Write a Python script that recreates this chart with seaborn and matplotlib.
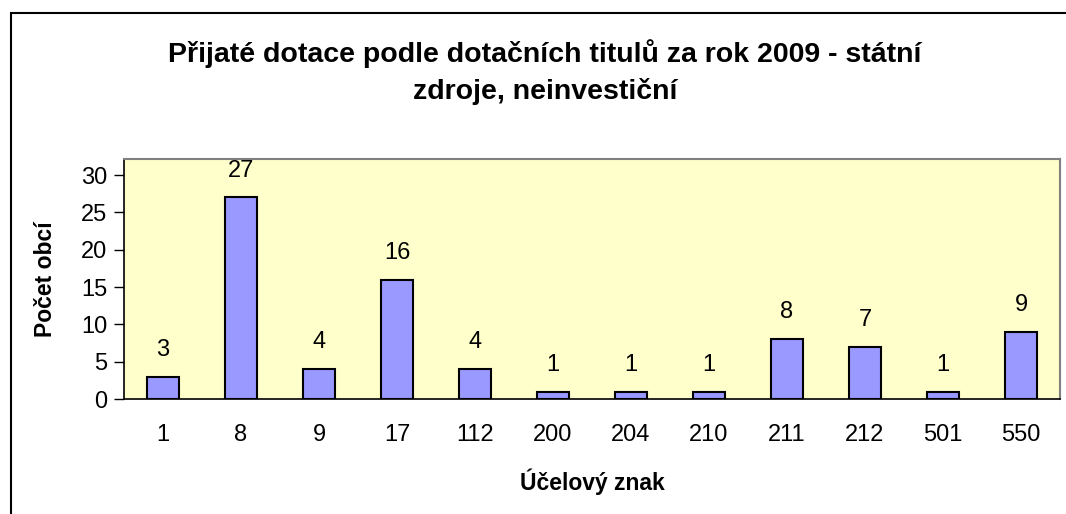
import numpy as np
import pandas as pd
import matplotlib
matplotlib.use("Agg")
import matplotlib.pyplot as plt
import seaborn as sns
from matplotlib.patches import Rectangle

# data
codes = ["1", "8", "9", "17", "112", "200", "204", "210", "211", "212", "501", "550"]
counts = [3, 27, 4, 16, 4, 1, 1, 1, 8, 7, 1, 9]

title = "Přijaté dotace podle dotačních titulů za rok 2009 - státní\nzdroje, neinvestiční"

sns.set_style("white")
plt.rcParams["font.family"] = ["Liberation Sans", "DejaVu Sans"]
plt.rcParams["text.color"] = "black"
plt.rcParams["axes.labelcolor"] = "black"
plt.rcParams["xtick.color"] = "black"
plt.rcParams["ytick.color"] = "black"

df = pd.DataFrame({"kod": codes, "pocet": counts})

fig = plt.figure(figsize=(10.66, 5.14), dpi=100)
ax = fig.add_axes([124 / 1066, 1 - 399 / 514, (1060 - 124) / 1066, (399 - 159) / 514])

sns.barplot(data=df, x="kod", y="pocet", color="#9999FF", width=0.42,
            edgecolor="black", linewidth=1.5, saturation=1, ax=ax)

ax.set_facecolor("#FFFFCC")
ax.set_xlim(-0.5, len(codes) - 0.5)
ax.set_ylim(0, 32.15)
ax.set_yticks(range(0, 31, 5))

# value labels above bars
for i, v in enumerate(counts):
    ax.text(i, v + 3.6, str(v), ha="center", va="center", fontsize=17)

# excel style ticks: x ticks at category boundaries
ax.set_xticks(np.arange(-0.5, len(codes), 1), minor=True)
ax.tick_params(axis="x", which="major", length=0, labelsize=17, pad=18)
ax.tick_params(axis="x", which="minor", length=7, width=1, color="black", direction="out")
ax.tick_params(axis="y", length=7, width=1, color="black", direction="out",
               labelsize=17, left=True, pad=5)

for s in ["left", "bottom"]:
    ax.spines[s].set_color("black")
    ax.spines[s].set_linewidth(1.2)
for s in ["top", "right"]:
    ax.spines[s].set_color("#808080")
    ax.spines[s].set_linewidth(1.5)

ax.set_xlabel("Účelový znak", fontsize=16.5, fontweight="bold", labelpad=16)
ax.set_ylabel("Počet obcí", fontsize=16.5, fontweight="bold", labelpad=17)

fig.text(545 / 1066, 1 - 72 / 514, title, ha="center", va="center",
         fontsize=20.5, fontweight="bold", linespacing=1.45)

# outer chart border (cropped at right and bottom)
fig.patches.append(Rectangle((11 / 1066, -0.1), 1.2, 1.1 - 13 / 514,
                             transform=fig.transFigure, fill=False,
                             edgecolor="black", linewidth=1.5))

fig.savefig("out.png", dpi=100)
